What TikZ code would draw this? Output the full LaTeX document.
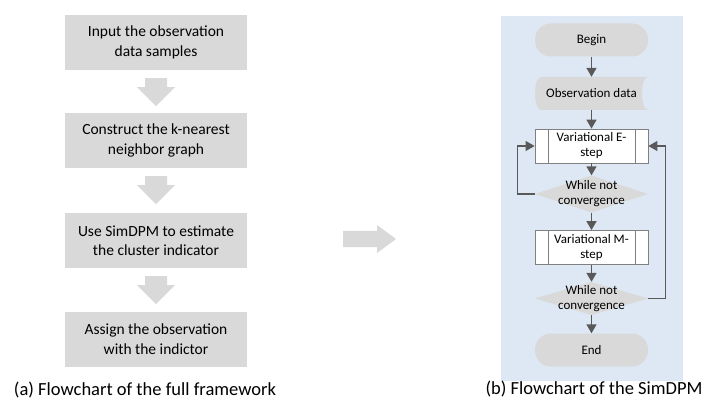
\documentclass[tikz,border=0pt]{standalone}
\usepackage{fontspec}
\setmainfont{Carlito}
\usetikzlibrary{arrows.meta}
\definecolor{boxgray}{HTML}{D9D9D9}
\definecolor{panelblue}{HTML}{DEE8F4}
\definecolor{arrowgray}{HTML}{595959}
\definecolor{edgegray}{HTML}{808080}
\begin{document}
\begin{tikzpicture}[x=1pt,y=-1pt,
  mainbox/.style={rectangle, fill=boxgray, minimum width=182pt, minimum height=55pt,
    inner sep=0pt, align=center, font=\fontsize{15.5}{19.5}\selectfont},
  rfont/.style={font=\fontsize{13}{15}\selectfont},
  term/.style={rfont, rectangle, rounded corners=16pt, fill=boxgray, minimum width=113pt,
    minimum height=33pt, inner sep=0pt},
  stored/.style={rfont, rectangle, minimum width=113pt, minimum height=33pt, inner sep=0pt,
    path picture={\fill[boxgray]
      ([xshift=6pt]path picture bounding box.north west) -- (path picture bounding box.north east)
      .. controls ([xshift=-8pt]path picture bounding box.north east) and ([xshift=-8pt]path picture bounding box.south east) .. (path picture bounding box.south east)
      -- ([xshift=6pt]path picture bounding box.south west)
      .. controls ([xshift=-2pt]path picture bounding box.south west) and ([xshift=-2pt]path picture bounding box.north west) .. ([xshift=6pt]path picture bounding box.north west) -- cycle;}},
  predef/.style={rfont, rectangle, draw=edgegray, line width=0.8pt, fill=white, minimum width=113pt,
    minimum height=34pt, inner sep=0pt, align=center,
    path picture={\draw[edgegray, line width=0.8pt]
      ([xshift=13pt]path picture bounding box.north west) -- ([xshift=13pt]path picture bounding box.south west)
      ([xshift=-13pt]path picture bounding box.north east) -- ([xshift=-13pt]path picture bounding box.south east);}},
  decision/.style={rfont, rectangle, minimum width=113pt, inner sep=0pt, align=center,
    path picture={\fill[boxgray] (path picture bounding box.north) -- (path picture bounding box.east)
      -- (path picture bounding box.south) -- (path picture bounding box.west) -- cycle;}},
  flow/.style={draw=arrowgray, line width=1.6pt, -{Triangle[width=10pt,length=9pt]}},
  loop/.style={draw=arrowgray, line width=1.1pt, -{Triangle[width=10pt,length=9pt]}},
  caption/.style={font=\fontsize{18.5}{22}\selectfont},
  downarr/.pic={\fill[boxgray] (-11,0) -- (11,0) -- (11,9) -- (19,9) -- (0,28) -- (-19,9) -- (-11,9) -- cycle;}
]
\useasboundingbox (0,0) rectangle (704,406);
\fill[white] (0,0) rectangle (704,406);

% left flowchart
\node[mainbox] (b1) at (156,42.5) {Input the observation\\data samples};
\node[mainbox] (b2) at (156,140.5) {Construct the k-nearest\\neighbor graph};
\node[mainbox] (b3) at (156,240.5) {Use SimDPM to estimate\\the cluster indicator};
\node[mainbox] (b4) at (156,339) {Assign the observation\\with the indictor};
\pic at ([yshift=-8pt]b1.south) {downarr};
\pic at ([yshift=-8pt]b2.south) {downarr};
\pic at ([yshift=-8pt]b3.south) {downarr};
\node[caption] (capa) at (145,390) {(a) Flowchart of the full framework};

% middle arrow
\fill[boxgray] (343,231) -- (377,231) -- (377,225) -- (396,239) -- (377,253) -- (377,247) -- (343,247) -- cycle;

% right flowchart
\fill[panelblue] (501,16) rectangle (683,381);
\node[term] (begin) at (591.5,40) {Begin};
\node[stored] (obs) at (591.5,93.5) {Observation data};
\node[predef] (estep) at (591.5,146) {Variational E-\\step};
\node[decision, minimum height=37pt] (d1) at (591.5,194) {While not\\convergence};
\node[predef] (mstep) at (591.5,247.5) {Variational M-\\step};
\node[decision, minimum height=33pt] (d2) at (591.5,298.5) {While not\\convergence};
\node[term] (end) at (591.5,350) {End};

\draw[flow] (begin) -- (obs);
\draw[flow] (obs) -- (estep);
\draw[flow] (estep) -- (d1.north);
\draw[flow] (d1.south) -- (mstep);
\draw[flow] (mstep) -- (d2.north);
\draw[flow] (d2.south) -- (end);
\draw[loop] (d1.west) -- ++(-17,0) |- (estep.west);
\draw[loop] (d2.east) -- ++(17,0) |- (estep.east);

\node[caption] (capb) at (594,389) {(b) Flowchart of the SimDPM};
\end{tikzpicture}
\end{document}
